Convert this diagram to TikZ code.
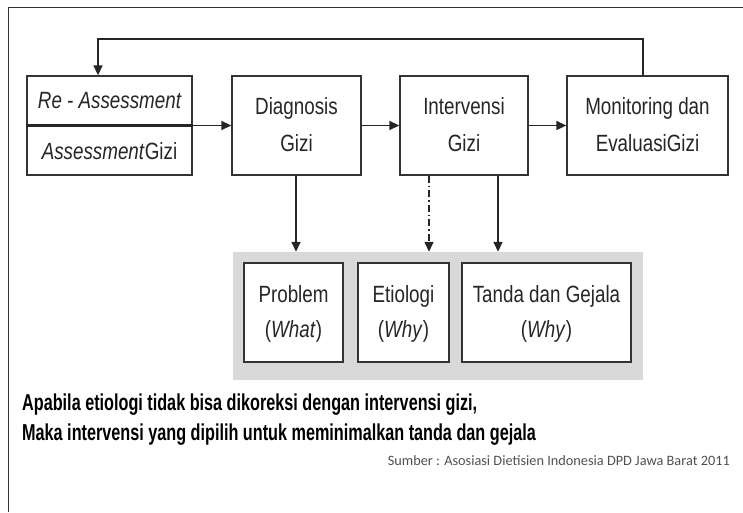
\documentclass[tikz,border=0pt]{standalone}
\usepackage{fontspec}
\setmainfont{Liberation Sans}
\newfontfamily\boxfont{Liberation Sans}[FakeStretch=0.8]
\newfontfamily\notefont{Liberation Sans}[FakeStretch=0.705]
\newfontfamily\srcfont{Carlito}
\usetikzlibrary{arrows.meta}
\definecolor{edge}{HTML}{333333}
\definecolor{panelgray}{HTML}{D9D9D9}
\definecolor{ink}{HTML}{262626}
\definecolor{srcgray}{HTML}{505050}
\begin{document}
\begin{tikzpicture}[x=1pt,y=-1pt,
  box/.style={draw=edge, line width=1.3pt, fill=white, inner sep=0pt, text=ink,
    font=\boxfont\fontsize{23.5}{37}\selectfont, align=center},
  boxtext/.style={inner sep=0pt, text=ink, font=\boxfont\fontsize{23.5}{27}\selectfont},
  subbox/.style={box, font=\boxfont\fontsize{23.5}{35}\selectfont},
  flow/.style={draw=ink, line width=1.5pt, -{Triangle[length=10pt,width=9pt]}},
  note/.style={inner sep=0pt, text=black, font=\notefont\bfseries\fontsize{23}{28}\selectfont},
]
\useasboundingbox (0,0) rectangle (743,512);

% outer frame (left and top edges only)
\draw[edge, line width=1pt] (8.5,512) -- (8.5,7.5) -- (743,7.5);

% main process boxes
\node[box, minimum width=165, minimum height=99] (assess) at (109.5,125.5) {};
\node[boxtext] (reassess) at (109.5,101) {\itshape Re - Assessment};
\node[boxtext] (assessgizi) at (109.5,151) {\textit{Assessment}Gizi};
\draw[ink, line width=2.8pt] (assess.west) -- (assess.east);

\node[box, minimum width=129, minimum height=99] (diag) at (296.5,125.5) {\raisebox{6pt}{\begin{tabular}{@{}c@{}}Diagnosis\\Gizi\end{tabular}}};
\node[box, minimum width=128, minimum height=99] (interv) at (464,125.5) {\raisebox{6pt}{\begin{tabular}{@{}c@{}}Intervensi\\Gizi\end{tabular}}};
\node[box, minimum width=161, minimum height=99] (monit) at (647.5,125.5) {\raisebox{6pt}{\begin{tabular}{@{}c@{}}Monitoring dan\\EvaluasiGizi\end{tabular}}};

% horizontal flow
\draw[flow] (assess.east) -- (diag.west);
\draw[flow] (diag.east) -- (interv.west);
\draw[flow] (interv.east) -- (monit.west);

% feedback loop
\coordinate (fbA) at (643,39);
\coordinate (fbB) at (98,39);
\draw[flow] (monit.north -| fbA) -- (fbA) -- (fbB) -- (assess.north -| fbB);

% diagnosis statement panel
\node[fill=panelgray, inner sep=0pt, minimum width=410, minimum height=128] (panel) at (438,316) {};
\node[subbox, minimum width=99, minimum height=99] (problem) at (293.5,312.5) {\raisebox{5pt}{\begin{tabular}{@{}c@{}}Problem\\(\textit{What})\end{tabular}}};
\node[subbox, minimum width=91, minimum height=99] (etio) at (403.5,312.5) {\raisebox{5pt}{\begin{tabular}{@{}c@{}}Etiologi\\(\textit{Why})\end{tabular}}};
\node[subbox, minimum width=169, minimum height=99] (tanda) at (546.5,312.5) {\raisebox{5pt}{\begin{tabular}{@{}c@{}}Tanda dan Gejala\\(\textit{Why})\end{tabular}}};

% links to the panel
\coordinate (dA) at (296,0);
\coordinate (dB) at (429,0);
\coordinate (dC) at (498,0);
\draw[flow] (diag.south -| dA) -- (panel.north -| dA);
\draw[flow, dash pattern=on 7pt off 3pt on 1.5pt off 3pt] (interv.south -| dB) -- (panel.north -| dB);
\draw[flow] (interv.south -| dC) -- (panel.north -| dC);

% notes
\node[note, anchor=base west] (note1) at (22,410) {Apabila etiologi tidak bisa dikoreksi dengan intervensi gizi,};
\node[note, anchor=base west] (note2) at (22,440) {Maka intervensi yang dipilih untuk meminimalkan tanda dan gejala};
\node[inner sep=0pt, anchor=base east, text=srcgray, font=\srcfont\fontsize{14.3}{17}\selectfont] (source) at (730,465) {Sumber : Asosiasi Dietisien Indonesia DPD Jawa Barat 2011};
\end{tikzpicture}
\end{document}
